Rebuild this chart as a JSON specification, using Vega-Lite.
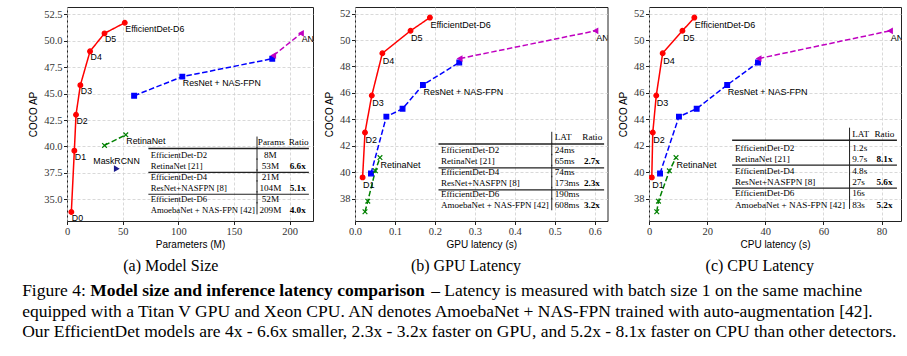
{
"$schema": "https://vega.github.io/schema/vega-lite/v6.json",
"padding": {"left": 22, "top": 6, "right": 5, "bottom": 0},
"datasets": {
"models": [
{"family":"EfficientDet","params":3.9,"gpu":null,"cpu":null,"ap":33.8,"label":"D0"},
{"family":"EfficientDet","params":6.6,"gpu":0.019,"cpu":0.96,"ap":39.6,"label":"D1"},
{"family":"EfficientDet","params":8.1,"gpu":0.025,"cpu":1.3,"ap":43.0,"label":"D2"},
{"family":"EfficientDet","params":12.0,"gpu":0.042,"cpu":2.5,"ap":45.8,"label":"D3"},
{"family":"EfficientDet","params":20.7,"gpu":0.0685,"cpu":4.7,"ap":49.0,"label":"D4"},
{"family":"EfficientDet","params":33.7,"gpu":0.139,"cpu":11.5,"ap":50.7,"label":"D5"},
{"family":"EfficientDet","params":51.9,"gpu":0.1875,"cpu":15.6,"ap":51.7,"label":"EfficientDet-D6"},
{"family":"ResNet","params":null,"gpu":0.040,"cpu":3.8,"ap":39.9,"label":null},
{"family":"ResNet","params":null,"gpu":0.0785,"cpu":10.3,"ap":44.2,"label":null},
{"family":"ResNet","params":60.3,"gpu":0.119,"cpu":16.4,"ap":44.8,"label":null},
{"family":"ResNet","params":103.6,"gpu":0.17,"cpu":26.9,"ap":46.6,"label":"ResNet + NAS-FPN"},
{"family":"ResNet","params":184.4,"gpu":0.261,"cpu":37.5,"ap":48.3,"label":null},
{"family":"AmoebaNet","params":185.5,"gpu":0.2625,"cpu":37.8,"ap":48.6,"label":null},
{"family":"AmoebaNet","params":210.4,"gpu":0.6025,"cpu":83.0,"ap":50.7,"label":"AN"},
{"family":"RetinaNet","params":null,"gpu":0.025,"cpu":2.67,"ap":37.0,"label":null},
{"family":"RetinaNet","params":null,"gpu":0.032,"cpu":3.26,"ap":37.8,"label":null},
{"family":"RetinaNet","params":33.7,"gpu":0.051,"cpu":7.0,"ap":40.1,"label":null},
{"family":"RetinaNet","params":52.8,"gpu":0.0625,"cpu":9.3,"ap":41.1,"label":"RetinaNet"},
{"family":"MaskRCNN","params":44.5,"gpu":null,"cpu":null,"ap":37.9,"label":"MaskRCNN"}
],
"tbl": [
{"panel":"a","row":0,"name":"","val":"Params","ratio":"Ratio"},
{"panel":"a","row":1,"name":"EfficientDet-D2","val":"8M","ratio":""},
{"panel":"a","row":2,"name":"RetinaNet [21]","val":"53M","ratio":"6.6x"},
{"panel":"a","row":3,"name":"EfficientDet-D4","val":"21M","ratio":""},
{"panel":"a","row":4,"name":"ResNet+NASFPN [8]","val":"104M","ratio":"5.1x"},
{"panel":"a","row":5,"name":"EfficientDet-D6","val":"52M","ratio":""},
{"panel":"a","row":6,"name":"AmoebaNet + NAS-FPN [42]","val":"209M","ratio":"4.0x"},
{"panel":"b","row":0,"name":"","val":"LAT","ratio":"Ratio"},
{"panel":"b","row":1,"name":"EfficientDet-D2","val":"24ms","ratio":""},
{"panel":"b","row":2,"name":"RetinaNet [21]","val":"65ms","ratio":"2.7x"},
{"panel":"b","row":3,"name":"EfficientDet-D4","val":"74ms","ratio":""},
{"panel":"b","row":4,"name":"ResNet+NASFPN [8]","val":"173ms","ratio":"2.3x"},
{"panel":"b","row":5,"name":"EfficientDet-D6","val":"190ms","ratio":""},
{"panel":"b","row":6,"name":"AmoebaNet + NAS-FPN [42]","val":"608ms","ratio":"3.2x"},
{"panel":"c","row":0,"name":"","val":"LAT","ratio":"Ratio"},
{"panel":"c","row":1,"name":"EfficientDet-D2","val":"1.2s","ratio":""},
{"panel":"c","row":2,"name":"RetinaNet [21]","val":"9.7s","ratio":"8.1x"},
{"panel":"c","row":3,"name":"EfficientDet-D4","val":"4.8s","ratio":""},
{"panel":"c","row":4,"name":"ResNet+NASFPN [8]","val":"27s","ratio":"5.6x"},
{"panel":"c","row":5,"name":"EfficientDet-D6","val":"16s","ratio":""},
{"panel":"c","row":6,"name":"AmoebaNet + NAS-FPN [42]","val":"83s","ratio":"5.2x"}
]
},
"config": {
"font": "Liberation Sans",
"view": {"stroke": "#222", "strokeWidth": 1},
"axis": {"labelFont": "Liberation Serif", "labelFontSize": 10.5, "labelColor": "#333", "titleFont": "Liberation Sans", "titleFontSize": 10, "titleFontWeight": "normal", "titleColor": "#000", "grid": true, "gridColor": "#cfcfcf", "gridDash": [3, 2], "gridWidth": 0.8, "domain": false, "tickColor": "#222", "tickSize": 3.5, "labelPadding": 1.5, "titlePadding": 3, "labelFlush": false},
"axisY": {"titlePadding": 5},
"title": {"font": "Liberation Serif", "fontSize": 16, "fontWeight": "normal", "color": "#000"},
"concat": {"spacing": 10},
"text": {"color": "#000"}
},
"title": {"text": ["Figure 4:", "equipped with a Titan V GPU and Xeon CPU. AN denotes AmoebaNet + NAS-FPN trained with auto-augmentation [42].", "Our EfficientDet models are 4x - 6.6x smaller, 2.3x - 3.2x faster on GPU, and 5.2x - 8.1x faster on CPU than other detectors."], "orient": "bottom", "anchor": "start", "frame": "bounds", "fontSize": 17.5, "lineHeight": 20.5, "dx": -6, "offset": -17.5},
"vconcat": [
{
"title": {"text": "– Latency is measured with batch size 1 on the same machine", "orient": "bottom", "anchor": "start", "frame": "bounds", "fontSize": 17.5, "dx": 403, "offset": -17.5},
"vconcat": [
{
"title": {"text": "Model size and inference latency comparison", "orient": "bottom", "anchor": "start", "frame": "bounds", "fontSize": 17.5, "fontWeight": "bold", "dx": 62, "offset": 8},
"hconcat": [
{
"width": 246, "height": 214,
"title": {"text": "(a) Model Size", "orient": "bottom", "anchor": "middle", "frame": "bounds", "fontSize": 16, "offset": 8},
"layer": [
{
"data": {"name": "models"},
"transform": [{"filter": "isValid(datum.params)"}],
"encoding": {
"x": {"field": "params", "type": "quantitative", "scale": {"domain": [0, 221], "nice": false, "zero": false}, "axis": {"title": "Parameters (M)", "values": [0, 50, 100, 150, 200], "format": "d"}},
"y": {"field": "ap", "type": "quantitative", "scale": {"domain": [32.95, 53.19], "nice": false, "zero": false}, "axis": {"title": "COCO AP", "values": [35, 37.5, 40, 42.5, 45, 47.5, 50, 52.5], "format": ".1f"}}
},
"layer": [
{"transform": [{"filter": "datum.family != 'MaskRCNN'"}], "mark": {"type": "line", "strokeWidth": 1.5, "clip": true},
 "encoding": {"color": {"field": "family", "type": "nominal", "scale": {"domain": ["EfficientDet","ResNet","AmoebaNet","RetinaNet","MaskRCNN"], "range": ["#ff0000","#0000ff","#c000c0","#008000","#1a1a8c"]}, "legend": null},
  "strokeDash": {"field": "family", "type": "nominal", "scale": {"domain": ["EfficientDet","ResNet","AmoebaNet","RetinaNet","MaskRCNN"], "range": [[1,0],[5.5,2.5],[5.5,2.5],[5.5,2.5],[1,0]]}, "legend": null}}},
{"mark": {"type": "point", "filled": true, "size": 22, "strokeWidth": 1.2, "opacity": 1, "clip": true},
 "encoding": {"color": {"field": "family", "type": "nominal", "scale": {"domain": ["EfficientDet","ResNet","AmoebaNet","RetinaNet","MaskRCNN"], "range": ["#ff0000","#0000ff","#c000c0","#008000","#1a1a8c"]}, "legend": null},
  "stroke": {"field": "family", "type": "nominal", "scale": {"domain": ["EfficientDet","ResNet","AmoebaNet","RetinaNet","MaskRCNN"], "range": ["#ff0000","#0000ff","#c000c0","#008000","#1a1a8c"]}, "legend": null},
  "shape": {"field": "family", "type": "nominal", "scale": {"domain": ["EfficientDet","ResNet","AmoebaNet","RetinaNet","MaskRCNN"], "range": ["circle","square","triangle-left","M-1,-1L1,1M-1,1L1,-1","triangle-right"]}, "legend": null}}},
{"transform": [{"filter": "isValid(datum.label) && datum.family != 'MaskRCNN'"}], "mark": {"type": "text", "align": "left", "baseline": "top", "dx": 0.5, "dy": 2, "fontSize": 8.8, "font": "Liberation Sans", "clip": true}, "encoding": {"text": {"field": "label"}}},
{"transform": [{"filter": "datum.family == 'MaskRCNN'"}], "mark": {"type": "text", "align": "center", "baseline": "bottom", "dy": -3, "fontSize": 8.8, "font": "Liberation Sans"}, "encoding": {"text": {"field": "label"}}}
]
},
{
"data": {"name": "tbl"},
"transform": [{"filter": "datum.panel == 'a'"}],
"encoding": {"y": {"field": "row", "type": "quantitative", "scale": {"domain": [-12.6, 7.03], "reverse": true, "nice": false, "zero": false}, "axis": null}},
"layer": [
{"transform": [{"filter": "datum.row > 0"}], "mark": {"type": "text", "align": "left", "baseline": "middle", "font": "Liberation Serif", "fontSize": 8.7}, "encoding": {"x": {"datum": 75.2, "type": "quantitative", "scale": {"domain": [0, 221], "nice": false, "zero": false}}, "text": {"field": "name"}}},
{"transform": [{"filter": "datum.row > 0"}], "mark": {"type": "text", "align": "center", "baseline": "middle", "font": "Liberation Serif", "fontSize": 9.2}, "encoding": {"x": {"datum": 182.7, "type": "quantitative", "scale": {"domain": [0, 221], "nice": false, "zero": false}}, "text": {"field": "val"}}},
{"transform": [{"filter": "datum.row > 0"}], "mark": {"type": "text", "align": "center", "baseline": "middle", "font": "Liberation Serif", "fontSize": 9.2, "fontWeight": "bold"}, "encoding": {"x": {"datum": 207.3, "type": "quantitative", "scale": {"domain": [0, 221], "nice": false, "zero": false}}, "text": {"field": "ratio"}}},
{"transform": [{"filter": "datum.row == 0"}], "mark": {"type": "text", "align": "center", "baseline": "middle", "dy": -2.5, "font": "Liberation Serif", "fontSize": 9.2}, "encoding": {"x": {"datum": 183.6, "type": "quantitative", "scale": {"domain": [0, 221], "nice": false, "zero": false}}, "text": {"field": "val"}}},
{"transform": [{"filter": "datum.row == 0"}], "mark": {"type": "text", "align": "center", "baseline": "middle", "dy": -2.5, "font": "Liberation Serif", "fontSize": 9.2}, "encoding": {"x": {"datum": 208.1, "type": "quantitative", "scale": {"domain": [0, 221], "nice": false, "zero": false}}, "text": {"field": "ratio"}}},
{"transform": [{"filter": "datum.row == 0"}], "mark": {"type": "rule", "yOffset": 4.2, "strokeWidth": 1.5, "color": "#222"}, "encoding": {"x": {"datum": 73.1, "type": "quantitative", "scale": {"domain": [0, 221], "nice": false, "zero": false}}, "x2": {"datum": 217.3}}},
{"transform": [{"filter": "datum.row == 2 || datum.row == 4"}], "mark": {"type": "rule", "yOffset": 6.3, "strokeWidth": 1.2, "color": "#222"}, "encoding": {"x": {"datum": 73.1, "type": "quantitative", "scale": {"domain": [0, 221], "nice": false, "zero": false}}, "x2": {"datum": 217.3}}},
{"mark": {"type": "rule", "yOffset": -7.8, "y2Offset": 4.6, "strokeWidth": 1, "color": "#222"}, "encoding": {"x": {"datum": 170.7, "type": "quantitative", "scale": {"domain": [0, 221], "nice": false, "zero": false}}, "y2": {"field": "row"}}}
]
}
],
"resolve": {"scale": {"y": "independent"}}
},
{
"width": 252.5, "height": 214,
"title": {"text": "(b) GPU Latency", "orient": "bottom", "anchor": "middle", "frame": "bounds", "fontSize": 16, "offset": 8},
"layer": [
{
"data": {"name": "models"},
"transform": [{"filter": "isValid(datum.gpu)"}],
"encoding": {
"x": {"field": "gpu", "type": "quantitative", "scale": {"domain": [0, 0.632], "nice": false, "zero": false}, "axis": {"title": "GPU latency (s)", "values": [0, 0.1, 0.2, 0.3, 0.4, 0.5, 0.6], "format": ".1f"}},
"y": {"field": "ap", "type": "quantitative", "scale": {"domain": [36.3, 52.5], "nice": false, "zero": false}, "axis": {"title": "COCO AP", "values": [38, 40, 42, 44, 46, 48, 50, 52], "format": "d"}}
},
"layer": [
{"mark": {"type": "line", "strokeWidth": 1.5, "clip": true},
 "encoding": {"color": {"field": "family", "type": "nominal", "scale": {"domain": ["EfficientDet","ResNet","AmoebaNet","RetinaNet","MaskRCNN"], "range": ["#ff0000","#0000ff","#c000c0","#008000","#1a1a8c"]}, "legend": null},
  "strokeDash": {"field": "family", "type": "nominal", "scale": {"domain": ["EfficientDet","ResNet","AmoebaNet","RetinaNet","MaskRCNN"], "range": [[1,0],[5.5,2.5],[5.5,2.5],[5.5,2.5],[1,0]]}, "legend": null}}},
{"mark": {"type": "point", "filled": true, "size": 22, "strokeWidth": 1.2, "opacity": 1, "clip": true},
 "encoding": {"color": {"field": "family", "type": "nominal", "scale": {"domain": ["EfficientDet","ResNet","AmoebaNet","RetinaNet","MaskRCNN"], "range": ["#ff0000","#0000ff","#c000c0","#008000","#1a1a8c"]}, "legend": null},
  "stroke": {"field": "family", "type": "nominal", "scale": {"domain": ["EfficientDet","ResNet","AmoebaNet","RetinaNet","MaskRCNN"], "range": ["#ff0000","#0000ff","#c000c0","#008000","#1a1a8c"]}, "legend": null},
  "shape": {"field": "family", "type": "nominal", "scale": {"domain": ["EfficientDet","ResNet","AmoebaNet","RetinaNet","MaskRCNN"], "range": ["circle","square","triangle-left","M-1,-1L1,1M-1,1L1,-1","triangle-right"]}, "legend": null}}},
{"transform": [{"filter": "isValid(datum.label)"}], "mark": {"type": "text", "align": "left", "baseline": "top", "dx": 0.5, "dy": 3.5, "fontSize": 9, "font": "Liberation Sans", "clip": true}, "encoding": {"text": {"field": "label"}}}
]
},
{
"data": {"name": "tbl"},
"transform": [{"filter": "datum.panel == 'b'"}],
"encoding": {"y": {"field": "row", "type": "quantitative", "scale": {"domain": [-12.03, 7.43], "reverse": true, "nice": false, "zero": false}, "axis": null}},
"layer": [
{"transform": [{"filter": "datum.row > 0"}], "mark": {"type": "text", "align": "left", "baseline": "middle", "font": "Liberation Serif", "fontSize": 9}, "encoding": {"x": {"datum": 0.215, "type": "quantitative", "scale": {"domain": [0, 0.632], "nice": false, "zero": false}}, "text": {"field": "name"}}},
{"transform": [{"filter": "datum.row > 0"}], "mark": {"type": "text", "align": "left", "baseline": "middle", "font": "Liberation Serif", "fontSize": 9.2}, "encoding": {"x": {"datum": 0.5, "type": "quantitative", "scale": {"domain": [0, 0.632], "nice": false, "zero": false}}, "text": {"field": "val"}}},
{"transform": [{"filter": "datum.row > 0"}], "mark": {"type": "text", "align": "center", "baseline": "middle", "font": "Liberation Serif", "fontSize": 9.2, "fontWeight": "bold"}, "encoding": {"x": {"datum": 0.593, "type": "quantitative", "scale": {"domain": [0, 0.632], "nice": false, "zero": false}}, "text": {"field": "ratio"}}},
{"transform": [{"filter": "datum.row == 0"}], "mark": {"type": "text", "align": "left", "baseline": "middle", "dy": -2.5, "font": "Liberation Serif", "fontSize": 9.2}, "encoding": {"x": {"datum": 0.5, "type": "quantitative", "scale": {"domain": [0, 0.632], "nice": false, "zero": false}}, "text": {"field": "val"}}},
{"transform": [{"filter": "datum.row == 0"}], "mark": {"type": "text", "align": "center", "baseline": "middle", "dy": -2.5, "font": "Liberation Serif", "fontSize": 9.2}, "encoding": {"x": {"datum": 0.594, "type": "quantitative", "scale": {"domain": [0, 0.632], "nice": false, "zero": false}}, "text": {"field": "ratio"}}},
{"transform": [{"filter": "datum.row == 0"}], "mark": {"type": "rule", "yOffset": 4.6, "strokeWidth": 1.5, "color": "#222"}, "encoding": {"x": {"datum": 0.209, "type": "quantitative", "scale": {"domain": [0, 0.632], "nice": false, "zero": false}}, "x2": {"datum": 0.6235}}},
{"transform": [{"filter": "datum.row == 2 || datum.row == 4"}], "mark": {"type": "rule", "yOffset": 6.5, "strokeWidth": 1.2, "color": "#222"}, "encoding": {"x": {"datum": 0.209, "type": "quantitative", "scale": {"domain": [0, 0.632], "nice": false, "zero": false}}, "x2": {"datum": 0.6235}}},
{"mark": {"type": "rule", "yOffset": -7.5, "y2Offset": 5, "strokeWidth": 1, "color": "#222"}, "encoding": {"x": {"datum": 0.4925, "type": "quantitative", "scale": {"domain": [0, 0.632], "nice": false, "zero": false}}, "y2": {"field": "row"}}}
]
}
],
"resolve": {"scale": {"y": "independent"}}
},
{
"width": 252, "height": 214,
"title": {"text": "(c) CPU Latency", "orient": "bottom", "anchor": "middle", "frame": "bounds", "fontSize": 16, "offset": 8},
"layer": [
{
"data": {"name": "models"},
"transform": [{"filter": "isValid(datum.cpu)"}],
"encoding": {
"x": {"field": "cpu", "type": "quantitative", "scale": {"domain": [0, 86.7], "nice": false, "zero": false}, "axis": {"title": "CPU latency (s)", "values": [0, 20, 40, 60, 80], "format": "d"}},
"y": {"field": "ap", "type": "quantitative", "scale": {"domain": [36.3, 52.5], "nice": false, "zero": false}, "axis": {"title": "COCO AP", "values": [38, 40, 42, 44, 46, 48, 50, 52], "format": "d"}}
},
"layer": [
{"mark": {"type": "line", "strokeWidth": 1.5, "clip": true},
 "encoding": {"color": {"field": "family", "type": "nominal", "scale": {"domain": ["EfficientDet","ResNet","AmoebaNet","RetinaNet","MaskRCNN"], "range": ["#ff0000","#0000ff","#c000c0","#008000","#1a1a8c"]}, "legend": null},
  "strokeDash": {"field": "family", "type": "nominal", "scale": {"domain": ["EfficientDet","ResNet","AmoebaNet","RetinaNet","MaskRCNN"], "range": [[1,0],[5.5,2.5],[5.5,2.5],[5.5,2.5],[1,0]]}, "legend": null}}},
{"mark": {"type": "point", "filled": true, "size": 22, "strokeWidth": 1.2, "opacity": 1, "clip": true},
 "encoding": {"color": {"field": "family", "type": "nominal", "scale": {"domain": ["EfficientDet","ResNet","AmoebaNet","RetinaNet","MaskRCNN"], "range": ["#ff0000","#0000ff","#c000c0","#008000","#1a1a8c"]}, "legend": null},
  "stroke": {"field": "family", "type": "nominal", "scale": {"domain": ["EfficientDet","ResNet","AmoebaNet","RetinaNet","MaskRCNN"], "range": ["#ff0000","#0000ff","#c000c0","#008000","#1a1a8c"]}, "legend": null},
  "shape": {"field": "family", "type": "nominal", "scale": {"domain": ["EfficientDet","ResNet","AmoebaNet","RetinaNet","MaskRCNN"], "range": ["circle","square","triangle-left","M-1,-1L1,1M-1,1L1,-1","triangle-right"]}, "legend": null}}},
{"transform": [{"filter": "isValid(datum.label)"}], "mark": {"type": "text", "align": "left", "baseline": "top", "dx": 0.5, "dy": 3.5, "fontSize": 9, "font": "Liberation Sans", "clip": true}, "encoding": {"text": {"field": "label"}}}
]
},
{
"data": {"name": "tbl"},
"transform": [{"filter": "datum.panel == 'c'"}],
"encoding": {"y": {"field": "row", "type": "quantitative", "scale": {"domain": [-11.27, 7.4], "reverse": true, "nice": false, "zero": false}, "axis": null}},
"layer": [
{"transform": [{"filter": "datum.row > 0"}], "mark": {"type": "text", "align": "left", "baseline": "middle", "font": "Liberation Serif", "fontSize": 9.2}, "encoding": {"x": {"datum": 29.55, "type": "quantitative", "scale": {"domain": [0, 86.7], "nice": false, "zero": false}}, "text": {"field": "name"}}},
{"transform": [{"filter": "datum.row > 0"}], "mark": {"type": "text", "align": "left", "baseline": "middle", "font": "Liberation Serif", "fontSize": 9.2}, "encoding": {"x": {"datum": 69.9, "type": "quantitative", "scale": {"domain": [0, 86.7], "nice": false, "zero": false}}, "text": {"field": "val"}}},
{"transform": [{"filter": "datum.row > 0"}], "mark": {"type": "text", "align": "center", "baseline": "middle", "font": "Liberation Serif", "fontSize": 9.2, "fontWeight": "bold"}, "encoding": {"x": {"datum": 81.0, "type": "quantitative", "scale": {"domain": [0, 86.7], "nice": false, "zero": false}}, "text": {"field": "ratio"}}},
{"transform": [{"filter": "datum.row == 0"}], "mark": {"type": "text", "align": "left", "baseline": "middle", "dy": -2.5, "font": "Liberation Serif", "fontSize": 9.2}, "encoding": {"x": {"datum": 69.9, "type": "quantitative", "scale": {"domain": [0, 86.7], "nice": false, "zero": false}}, "text": {"field": "val"}}},
{"transform": [{"filter": "datum.row == 0"}], "mark": {"type": "text", "align": "center", "baseline": "middle", "dy": -2.5, "font": "Liberation Serif", "fontSize": 9.2}, "encoding": {"x": {"datum": 81.0, "type": "quantitative", "scale": {"domain": [0, 86.7], "nice": false, "zero": false}}, "text": {"field": "ratio"}}},
{"transform": [{"filter": "datum.row == 0"}], "mark": {"type": "rule", "yOffset": 4, "strokeWidth": 1.5, "color": "#222"}, "encoding": {"x": {"datum": 28.6, "type": "quantitative", "scale": {"domain": [0, 86.7], "nice": false, "zero": false}}, "x2": {"datum": 85.3}}},
{"transform": [{"filter": "datum.row == 2 || datum.row == 4"}], "mark": {"type": "rule", "yOffset": 6, "strokeWidth": 1.2, "color": "#222"}, "encoding": {"x": {"datum": 28.6, "type": "quantitative", "scale": {"domain": [0, 86.7], "nice": false, "zero": false}}, "x2": {"datum": 85.3}}},
{"mark": {"type": "rule", "yOffset": -8.5, "y2Offset": 4, "strokeWidth": 1, "color": "#222"}, "encoding": {"x": {"datum": 69.0, "type": "quantitative", "scale": {"domain": [0, 86.7], "nice": false, "zero": false}}, "y2": {"field": "row"}}}
]
}
],
"resolve": {"scale": {"y": "independent"}}
}
]
}
]
}
]
}
